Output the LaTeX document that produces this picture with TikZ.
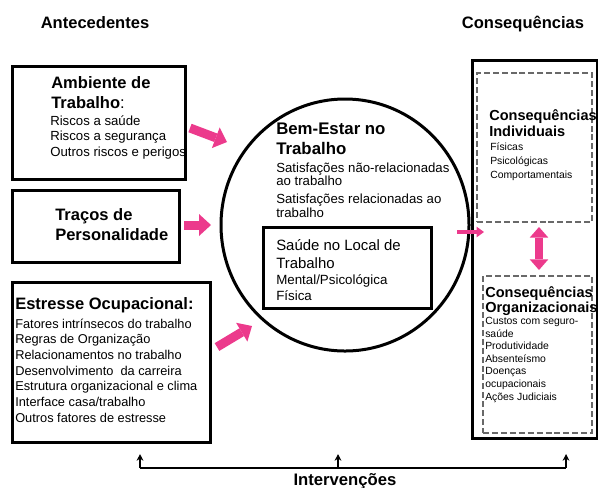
\documentclass[tikz,border=0pt]{standalone}
\usepackage{fontspec}
\setmainfont{Liberation Sans}
\usetikzlibrary{arrows.meta}
\usetikzlibrary{shapes.geometric}

\definecolor{rosa}{RGB}{236,58,140}
\definecolor{tracejado}{RGB}{105,105,105}

\tikzset{
  caixa/.style={draw, line width=2.25pt, inner sep=0pt},
  caixatrac/.style={draw=tracejado, line width=0.9pt, dash pattern=on 4.5pt off 2.2pt, inner sep=0pt},
  texto/.style={anchor=base west, inner sep=0pt, align=left},
  titulo/.style={texto, font=\fontsize{12.4}{15}\selectfont\bfseries},
  itens/.style={texto, font=\fontsize{9.8}{11.7}\selectfont},
  seta/.style={rosa, line width=6.75pt, -{Triangle[length=9pt,width=16.5pt,line width=0pt]}},
}

\begin{document}
\begin{tikzpicture}[x=0.75pt, y=-0.75pt]
        % fixing the frame of the picture
        \useasboundingbox (0,0) rectangle (598,487);

        % Headings
        \node[anchor=base, inner sep=0pt, font=\fontsize{12.4}{15}\selectfont\bfseries] (antec) at (95,28) {Antecedentes};
        \node[anchor=base, inner sep=0pt, font=\fontsize{12.4}{15}\selectfont\bfseries] (conseq) at (523,28) {Consequências};

        % Box Ambiente de Trabalho (base = last line)
        \node[caixa, minimum width=173*0.75pt, minimum height=113*0.75pt] (amb) at (98.5,122.5) {};
        \node[titulo] (ambtit) at (51,108) {Ambiente de\\Trabalho{\mdseries:}};
        \node[itens, font=\fontsize{9.9}{11.6}\selectfont] (ambit) at (50,156) {Riscos a saúde\\Riscos a segurança\\Outros riscos e perigos};

        % Box Traços de Personalidade
        \node[caixa, minimum width=167*0.75pt, minimum height=72*0.75pt] (tra) at (95.5,226) {};
        \node[titulo] (tratit) at (55,240) {Traços de\\Personalidade};

        % Box Estresse Ocupacional
        \node[caixa, minimum width=198*0.75pt, minimum height=160*0.75pt] (est) at (111,362) {};
        \node[titulo] (esttit) at (15,309) {Estresse Ocupacional:};
        \node[itens, font=\fontsize{9.6}{11.75}\selectfont] (estit) at (15,422) {Fatores intrínsecos do trabalho\\Regras de Organização\\Relacionamentos no trabalho\\Desenvolvimento\ \ da carreira\\Estrutura organizacional e clima\\Interface casa/trabalho\\Outros fatores de estresse};

        % Circle Bem-Estar no Trabalho
        \node[draw, ellipse, line width=2.25pt, inner sep=0pt, minimum width=248*0.75pt, minimum height=252*0.75pt] (bem) at (345,225) {};
        \node[titulo, font=\fontsize{12.6}{15}\selectfont\bfseries] (bemtit) at (276,154) {Bem-Estar no\\Trabalho};
        \node[itens, font=\fontsize{9.9}{10.1}\selectfont] (bemit) at (276,217) {Satisfações não-relacionadas\\ao trabalho\\[3.4pt]Satisfações relacionadas ao\\trabalho};

        % Box Saúde no Local de Trabalho
        \node[caixa, minimum width=168*0.75pt, minimum height=81*0.75pt] (sau) at (347,267.5) {};
        \node[texto, font=\fontsize{11.2}{13.5}\selectfont] (sautit) at (276,268) {Saúde no Local de\\Trabalho};
        \node[itens, font=\fontsize{10}{12}\selectfont] (sauit) at (276,300) {Mental/Psicológica\\Física};

        % Box Consequências
        \node[caixa, minimum width=125*0.75pt, minimum height=378*0.75pt] (cons) at (534.5,249) {};
        \node[caixatrac, minimum width=115*0.75pt, minimum height=149*0.75pt] (ind) at (534.5,147.5) {};
        \node[titulo, font=\fontsize{10.9}{12}\selectfont\bfseries] (indtit) at (489,136) {Consequências\\Individuais};
        \node[itens, font=\fontsize{7.8}{10.5}\selectfont] (indit) at (490,178) {Físicas\\Psicológicas\\Comportamentais};
        \node[caixatrac, minimum width=109*0.75pt, minimum height=157*0.75pt] (org) at (537.5,354.5) {};
        \node[titulo, font=\fontsize{10.9}{11.25}\selectfont\bfseries] (orgtit) at (485,312) {Consequências\\Organizacionais};
        \node[itens, font=\fontsize{7.8}{9.4}\selectfont] (orgit) at (485,400) {Custos com seguro-\\saúde\\Produtividade\\Absenteísmo\\Doenças\\ocupacionais\\Ações Judiciais};

        % Pink arrows
        \coordinate (s1a) at (190,128);
        \coordinate (s1b) at (227,142);
        \draw[seta] (s1a) -- (s1b);
        \coordinate (s2a) at (184,225);
        \coordinate (s2b) at (211,225);
        \draw[seta] (s2a) -- (s2b);
        \coordinate (s3a) at (217,347);
        \coordinate (s3b) at (252,326);
        \draw[seta] (s3a) -- (s3b);
        \coordinate (s4a) at (457,232);
        \coordinate (s4b) at (484,232);
        \draw[rosa, line width=3pt, -{Triangle[length=5.5pt,width=8pt,line width=0pt]}] (s4a) -- (s4b);
        \coordinate (s5a) at (539,227);
        \coordinate (s5b) at (539,270);
        \draw[rosa, line width=6pt, {Triangle[length=8pt,width=14pt,line width=0pt]}-{Triangle[length=8pt,width=14pt,line width=0pt]}] (s5a) -- (s5b);

        % Intervencoes
        \coordinate (iv1) at (140,468);
        \coordinate (iv2) at (338,468);
        \coordinate (iv3) at (566,468);
        \coordinate (av1) at (140,454);
        \coordinate (av2) at (338,454);
        \coordinate (av3) at (566,454);
        \draw[line width=1.1pt] (iv1) -- (iv3);
        \foreach \i in {1,2,3}
          \draw[line width=1.1pt, -{Stealth[length=5pt,width=5pt]}] (iv\i) -- (av\i);
        \node[anchor=base, inner sep=0pt, font=\fontsize{12.5}{15}\selectfont\bfseries] (interv) at (345,485) {Intervenções};
\end{tikzpicture}
\end{document}
